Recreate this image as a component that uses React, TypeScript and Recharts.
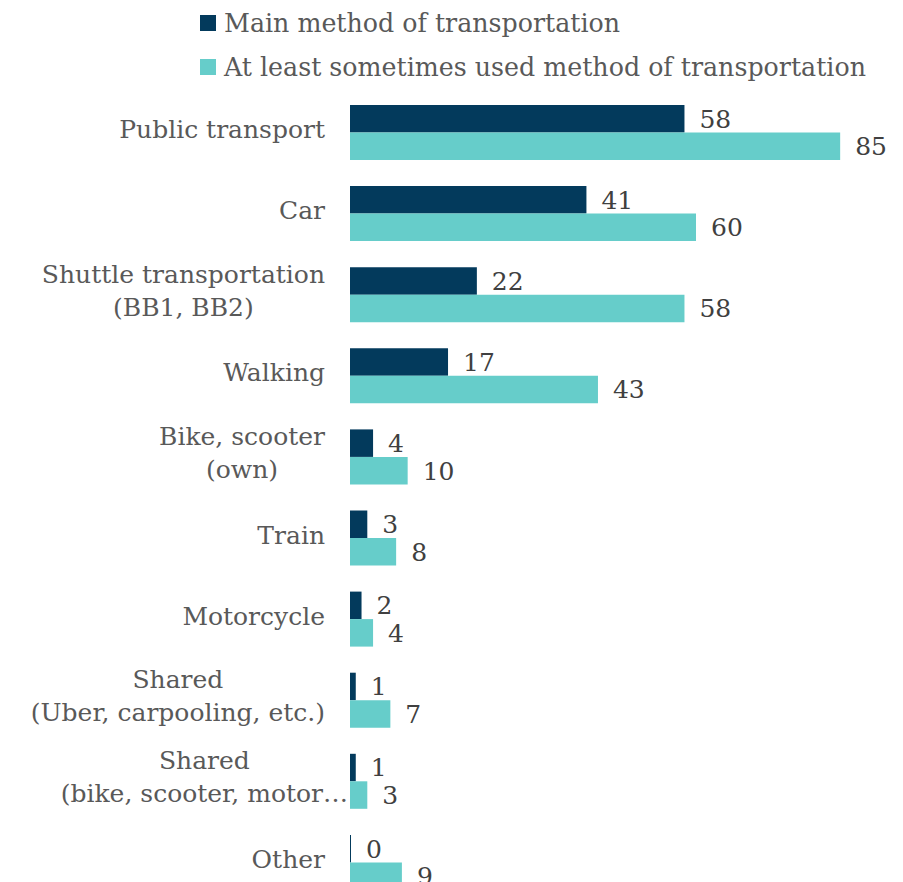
import { BarChart, Bar, XAxis, YAxis, Legend, LabelList } from "recharts";

const categories = [
  "Public transport",
  "Car",
  "Shuttle transportation\n(BB1, BB2)",
  "Walking",
  "Bike, scooter\n(own)",
  "Train",
  "Motorcycle",
  "Shared\n(Uber, carpooling, etc.)",
  "Shared\n(bike, scooter, motor…",
  "Other",
];
const mainMethod = [58, 41, 22, 17, 4, 3, 2, 1, 1, 0];
const sometimesUsed = [85, 60, 58, 43, 10, 8, 4, 7, 3, 9];
const seriesNames = [
  "Main method of transportation",
  "At least sometimes used method of transportation",
];
const seriesColors = ["#033a5c", "#66cdca"];

const data = categories.map((name, i) => ({
  name,
  main: mainMethod[i],
  sometimes: sometimesUsed[i],
}));

const FONT = '"DejaVu Serif", serif';
const FONT_SIZE = 25;
const TEXT = "#595959";
const VALUE_TEXT = "#404040";

let ctx: CanvasRenderingContext2D | null = null;
function textWidth(s: string) {
  if (!ctx) ctx = document.createElement("canvas").getContext("2d");
  if (!ctx) return s.length * FONT_SIZE * 0.55;
  ctx.font = `${FONT_SIZE}px "DejaVu Serif"`;
  return ctx.measureText(s).width;
}

function CategoryTick(props: any) {
  const { x, y, payload } = props;
  const lines = String(payload.value).split("\n");
  const style = { fontFamily: FONT, fontSize: FONT_SIZE, fill: TEXT };
  if (lines.length === 1) {
    return (
      <text x={x} y={y - 3} textAnchor="end" dominantBaseline="central" style={style}>
        {lines[0]}
      </text>
    );
  }
  // multi-line labels are centred inside a right-aligned block
  const widths = lines.map(textWidth);
  const truncated = lines[lines.length - 1].endsWith("…");
  const right = x + (truncated ? 23 : 0);
  const cx = right - Math.max(...widths) / 2;
  return (
    <text textAnchor="middle" dominantBaseline="central" style={style}>
      {lines.map((l, i) => (
        <tspan key={i} x={cx} y={y - 21 + i * 33}>
          {l}
        </tspan>
      ))}
    </text>
  );
}

function LegendBox() {
  return (
    <div
      style={{
        height: 88,
        paddingLeft: 200,
        fontFamily: FONT,
        fontSize: 25.3,
        color: TEXT,
        boxSizing: "border-box",
      }}
    >
      {seriesNames.map((n, i) => (
        <div key={n} style={{ display: "flex", alignItems: "center", height: 44 }}>
          <span
            style={{
              display: "inline-block",
              width: 16,
              height: 16,
              background: seriesColors[i],
              marginRight: 8,
            }}
          />
          <span>{n}</span>
        </div>
      ))}
    </div>
  );
}

export default function App() {
  return (
    <div
      style={{
        position: "fixed",
        left: 0,
        top: 0,
        width: 903,
        height: 882,
        overflow: "hidden",
        background: "#fff",
      }}
    >
      <BarChart
        width={903}
        height={910}
        data={data}
        layout="vertical"
        barGap={0}
        barSize={27.5}
        margin={{ top: 4, right: 34, bottom: 7, left: 0 }}
      >
        <Legend
          verticalAlign="top"
          width={903}
          wrapperStyle={{ left: 0, top: 1 }}
          content={<LegendBox />}
        />
        <XAxis type="number" domain={[0, 90]} hide />
        <YAxis
          type="category"
          dataKey="name"
          width={350}
          axisLine={false}
          tickLine={false}
          tickSize={0}
          tickMargin={25}
          interval={0}
          tick={<CategoryTick />}
        />
        <Bar
          dataKey="main"
          name={seriesNames[0]}
          fill={seriesColors[0]}
          minPointSize={1}
          isAnimationActive={false}
        >
          <LabelList
            dataKey="main"
            position="right"
            offset={15}
            fill={VALUE_TEXT}
            style={{ fontFamily: FONT, fontSize: FONT_SIZE }}
          />
        </Bar>
        <Bar dataKey="sometimes" name={seriesNames[1]} fill={seriesColors[1]} isAnimationActive={false}>
          <LabelList
            dataKey="sometimes"
            position="right"
            offset={15}
            fill={VALUE_TEXT}
            style={{ fontFamily: FONT, fontSize: FONT_SIZE }}
          />
        </Bar>
      </BarChart>
    </div>
  );
}
